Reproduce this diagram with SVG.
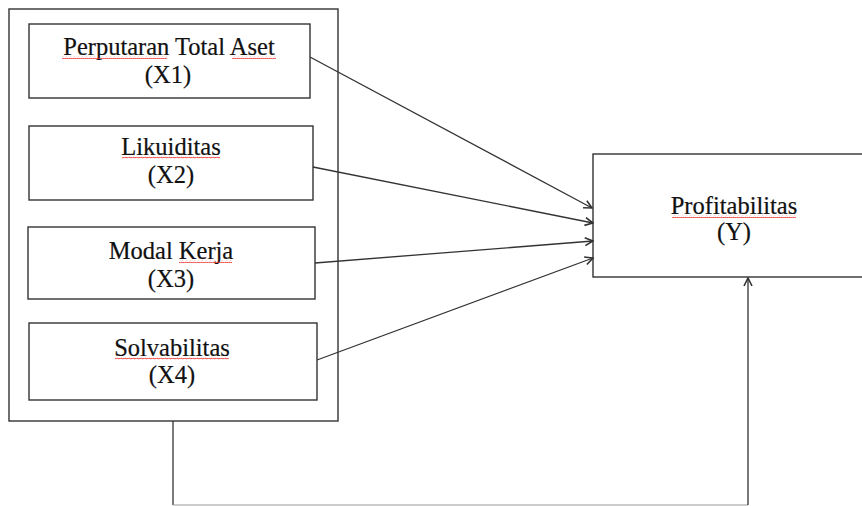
<svg xmlns="http://www.w3.org/2000/svg" width="862" height="506" viewBox="0 0 862 506">
<defs>
<style>
.box{fill:#fff;stroke:#333;stroke-width:1.4}
.lbl{font-family:"Liberation Serif","Times New Roman",serif;font-size:24.5px;fill:#111;text-anchor:middle;stroke:#111;stroke-width:0.2}
.con{fill:none;stroke:#333;stroke-width:1.3}
.sq{fill:url(#wave)}
</style>
<pattern id="wave" width="4" height="3" patternUnits="userSpaceOnUse">
<path d="M0 2.2 Q1 0.4 2 1.5 T4 1.2" fill="none" stroke="#e33" stroke-width="0.9"/>
</pattern>
<marker id="arr" markerWidth="10" markerHeight="10" refX="9" refY="5" orient="auto" markerUnits="userSpaceOnUse">
<path d="M1 1 L9 5 L1 9" fill="none" stroke="#333" stroke-width="1.6"/>
</marker>
</defs>
<rect width="862" height="506" fill="#fff"/>
<g id="outer"><rect class="box" x="9" y="9" width="329" height="412"/></g>
<g id="x1">
<rect class="box" x="29" y="24" width="281" height="74"/>
<text class="lbl" x="169" y="55">Perputaran Total Aset</text>
<text class="lbl" x="168" y="83">(X1)</text>
<rect class="sq" x="62" y="56" width="105" height="3"/>
<rect class="sq" x="232" y="56" width="44" height="3"/>
</g>
<g id="x2">
<rect class="box" x="29" y="126" width="284" height="74"/>
<text class="lbl" x="171" y="155">Likuiditas</text>
<text class="lbl" x="171" y="183">(X2)</text>
<rect class="sq" x="122" y="156" width="98" height="3"/>
</g>
<g id="x3">
<rect class="box" x="28" y="227" width="287" height="72"/>
<text class="lbl" x="171" y="259">Modal Kerja</text>
<text class="lbl" x="171" y="287">(X3)</text>
<rect class="sq" x="179" y="260" width="53" height="3"/>
</g>
<g id="x4">
<rect class="box" x="29" y="323" width="288" height="77"/>
<text class="lbl" x="172" y="356">Solvabilitas</text>
<text class="lbl" x="172" y="383">(X4)</text>
<rect class="sq" x="115" y="357" width="114" height="3"/>
</g>
<g id="y">
<rect class="box" x="593" y="154" width="280" height="123"/>
<text class="lbl" x="734" y="214">Profitabilitas</text>
<text class="lbl" x="734" y="240">(Y)</text>
<rect class="sq" x="672" y="215" width="124" height="3"/>
</g>
<g id="connectors">
<line class="con" x1="310" y1="57" x2="592" y2="208" marker-end="url(#arr)"/>
<line class="con" x1="313" y1="167" x2="593" y2="223" marker-end="url(#arr)"/>
<line class="con" x1="315" y1="263" x2="593" y2="241" marker-end="url(#arr)"/>
<line class="con" x1="317" y1="360" x2="593" y2="258" marker-end="url(#arr)"/>
<path class="con" d="M173 421 V505" />
<path class="con" d="M173 505 H748" style="stroke:#999;stroke-width:1"/>
<path class="con" d="M748 505 V278" marker-end="url(#arr)"/>
</g>
</svg>
